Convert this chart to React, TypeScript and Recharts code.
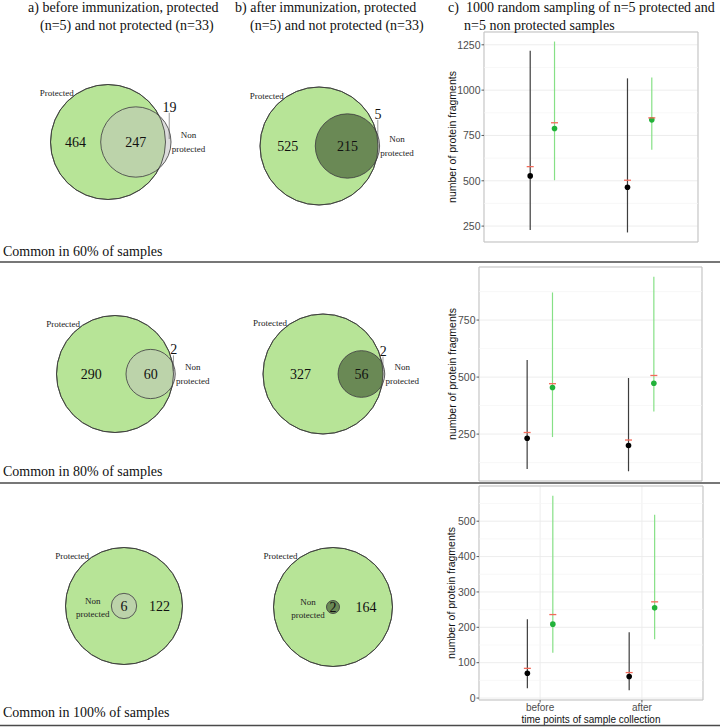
import React from 'react';
import {
  ScatterChart,
  Scatter,
  XAxis,
  YAxis,
  ZAxis,
  CartesianGrid,
  ErrorBar,
  ReferenceLine,
  ReferenceArea,
  Label,
} from 'recharts';

const SERIF = '"Liberation Serif", "Times New Roman", serif';
const SANS = '"Liberation Sans", Arial, sans-serif';

// ---------- text ----------
const headerA = ['a) before immunization, protected', '(n=5) and not protected (n=33)'];
const headerB = ['b) after immunization, protected', '(n=5) and not protected (n=33)'];
const headerC = ['c)  1000 random sampling of n=5 protected and', 'n=5 non protected samples'];
const rowLabels = ['Common in 60% of samples', 'Common in 80% of samples', 'Common in 100% of samples'];

// ---------- Venn data (a60, b60, a80, b80, a100, b100) ----------
const vennProtectedOnly = [464, 525, 290, 327, 122, 164];
const vennShared = [247, 215, 60, 56, 6, 2];
const vennNonProtectedOnly = [19, 5, 2, 2, 0, 0];

// ---------- random sampling data ----------
const timePoints = ['before', 'after'];

const non60Median = [527, 464];
const non60Mean = [578, 503];
const non60Min = [228, 215];
const non60Max = [1217, 1065];
const pro60Median = [788, 836];
const pro60Mean = [820, 847];
const pro60Min = [503, 671];
const pro60Max = [1268, 1070];
const ticks60 = [250, 500, 750, 1000, 1250];

const non80Median = [232, 200];
const non80Mean = [257, 224];
const non80Min = [97, 87];
const non80Max = [575, 496];
const pro80Median = [454, 473];
const pro80Mean = [471, 507];
const pro80Min = [237, 349];
const pro80Max = [871, 940];
const ticks80 = [250, 500, 750];

const non100Median = [70, 61];
const non100Mean = [84, 72];
const non100Min = [28, 22];
const non100Max = [223, 186];
const pro100Median = [209, 255];
const pro100Mean = [236, 272];
const pro100Min = [128, 166];
const pro100Max = [572, 518];
const ticks100 = [0, 100, 200, 300, 400, 500];

// ---------- layout ----------
const vennLayout = [
  { cx: 108, cy: 142, R: 57.5, col: 'a' },
  { cx: 318.5, cy: 146, R: 59, col: 'b' },
  { cx: 114.5, cy: 373.5, R: 58.5, col: 'a' },
  { cx: 323, cy: 374, R: 60, col: 'b' },
  { cx: 123.5, cy: 606, R: 58.5, col: 'a' },
  { cx: 333, cy: 607, R: 59.5, col: 'b' },
];
const PRO_FILL = '#b7e497';
const COLS: any = {
  a: { sliver: '#dcdcdc', inter: '#bcd3aa' },
  b: { sliver: '#cdcdcd', inter: '#6a8955' },
};
const STROKE = '#3a3a3a';

const ProShape = (p: any) => {
  const r = Math.sqrt(Math.max(p.size || 0, 0) / Math.PI) || p.width / 2;
  const { cx, cy } = p;
  const d = p.payload;
  const k = 0.7071;
  const labelX = d.nonDx > 0 ? (cx - r + cx + d.nonDx - d.nonR) / 2 : (cx + d.nonR + cx + r) / 2;
  return (
    <g>
      <circle cx={cx} cy={cy} r={r} fill={PRO_FILL} stroke={STROKE} strokeWidth={0.8} />
      <text x={cx - k * r + 6.5} y={cy - k * r - 5.5} textAnchor="end" fontSize={9} fontFamily={SERIF} fill="#222">
        Protected
      </text>
      <text x={labelX} y={cy + 5} textAnchor="middle" fontSize={14} fontFamily={SERIF} fill="#111">
        {d.count}
      </text>
    </g>
  );
};

const NonShape = (p: any) => {
  const r = Math.sqrt(Math.max(p.size || 0, 0) / Math.PI) || p.width / 2;
  const { cx, cy } = p;
  const d = p.payload;
  const pcx = cx - d.dx;
  const clipId = `vclip${d.idx}`;
  const right = d.dx > 0;
  return (
    <g>
      <defs>
        <clipPath id={clipId}>
          <circle cx={pcx} cy={cy} r={d.R} />
        </clipPath>
      </defs>
      <circle cx={cx} cy={cy} r={r} fill={d.sliver} />
      <circle cx={cx} cy={cy} r={r} fill={d.inter} clipPath={`url(#${clipId})`} />
      <circle cx={pcx} cy={cy} r={d.R} fill="none" stroke={STROKE} strokeWidth={0.8} />
      <circle cx={cx} cy={cy} r={r} fill="none" stroke={STROKE} strokeWidth={0.8} />
      <text x={cx} y={cy + 5} textAnchor="middle" fontSize={14} fontFamily={SERIF} fill="#111">
        {d.shared}
      </text>
      {d.nonOnly > 0 && (
        <g>
          <text x={cx + r - 1.5} y={cy - r + 5} textAnchor="middle" fontSize={14} fontFamily={SERIF} fill="#111">
            {d.nonOnly}
          </text>
          <line x1={cx + r - 1.8} x2={cx + r - 1.8} y1={cy - r + 6} y2={cy - 3} stroke="#555" strokeWidth={0.6} />
        </g>
      )}
      {right ? (
        <g fontSize={9} fontFamily={SERIF} fill="#222" textAnchor="middle">
          <text x={cx + r + 17.5} y={cy - 4}>Non</text>
          <text x={cx + r + 17.5} y={cy + 9.5}>protected</text>
        </g>
      ) : (
        <g fontSize={9} fontFamily={SERIF} fill="#222" textAnchor="middle">
          <text x={cx - r - 18.5} y={cy - 2}>Non</text>
          <text x={cx - r - 18.5} y={cy + 10.5}>protected</text>
        </g>
      )}
    </g>
  );
};

function Venn({ idx }: { idx: number }) {
  const L = vennLayout[idx];
  const W = 240;
  const H = 150;
  const proOnly = vennProtectedOnly[idx];
  const shared = vennShared[idx];
  const nonOnly = vennNonProtectedOnly[idx];
  const proTotal = proOnly + shared;
  const nonTotal = shared + nonOnly;
  const nonR = L.R * Math.sqrt(nonTotal / proTotal);
  const dx = nonOnly > 0 ? L.R - nonR + (2.2 * nonR * nonOnly) / nonTotal : 0;
  const colors = COLS[L.col];
  const proData = [{ x: 0, y: 0, z: proTotal, count: proOnly, nonR, nonDx: dx }];
  const nonData = [
    { x: dx, y: 0, z: nonTotal, shared, nonOnly, dx, R: L.R, idx, sliver: colors.sliver, inter: colors.inter },
  ];
  return (
    <div style={{ position: 'absolute', left: L.cx - W / 2, top: L.cy - H / 2 }}>
      <ScatterChart width={W} height={H} margin={{ top: 0, right: 0, bottom: 0, left: 0 }}>
        <XAxis type="number" dataKey="x" domain={[-W / 2, W / 2]} allowDataOverflow hide />
        <YAxis type="number" dataKey="y" domain={[-H / 2, H / 2]} allowDataOverflow hide />
        <ZAxis type="number" dataKey="z" domain={[0, proTotal]} range={[0, Math.PI * L.R * L.R]} />
        <Scatter data={proData} shape={ProShape} isAnimationActive={false} />
        <Scatter data={nonData} shape={NonShape} isAnimationActive={false} />
      </ScatterChart>
    </div>
  );
}

const BlackDot = (p: any) => <circle cx={p.cx} cy={p.cy} r={2.8} fill="#000" />;
const GreenDot = (p: any) => <circle cx={p.cx} cy={p.cy} r={2.8} fill="#22b23a" />;
const MeanTick = (p: any) => (
  <line x1={p.cx - 3.5} x2={p.cx + 3.5} y1={p.cy} y2={p.cy} stroke="#f26a5a" strokeWidth={1.3} />
);

function Panel(props: any) {
  const {
    top, height, plotTop, plotBottom, plotLeft, plotRight, ticks, showX, titleX,
    nonMedian, nonMean, nonMin, nonMax, proMedian, proMean, proMin, proMax,
  } = props;
  const LEFT = 440;
  const W = 280;
  const all = [...nonMin, ...nonMax, ...proMin, ...proMax];
  const lo = Math.min(...all);
  const hi = Math.max(...all);
  const pad = (hi - lo) * 0.05;
  const domain = [lo - pad, hi + pad];
  const step = ticks[1] - ticks[0];
  const minor: number[] = [];
  for (let v = ticks[0] - step / 2; v < domain[1]; v += step) if (v > domain[0]) minor.push(v);
  const nonRows = timePoints.map((t, i) => ({
    x: i + 1 - 0.125,
    y: nonMedian[i],
    err: [nonMedian[i] - nonMin[i], nonMax[i] - nonMedian[i]],
  }));
  const proRows = timePoints.map((t, i) => ({
    x: i + 1 + 0.125,
    y: proMedian[i],
    err: [proMedian[i] - proMin[i], proMax[i] - proMedian[i]],
  }));
  const meanRows = [
    ...timePoints.map((t, i) => ({ x: i + 1 - 0.125, y: nonMean[i] })),
    ...timePoints.map((t, i) => ({ x: i + 1 + 0.125, y: proMean[i] })),
  ];
  const xAxisH = height - (plotBottom - top);
  const midY = (plotTop + plotBottom) / 2 - top;
  return (
    <div style={{ position: 'absolute', left: LEFT, top }}>
      <ScatterChart
        width={W}
        height={height}
        margin={{ top: plotTop - top, right: LEFT + W - plotRight, bottom: 0, left: 0 }}
      >
        <CartesianGrid stroke="#ebebeb" strokeWidth={0.9} />
        {minor.map((v) => (
          <ReferenceLine key={v} y={v} stroke="#f5f5f5" strokeWidth={0.7} />
        ))}
        <ReferenceArea
          x1={0.4}
          x2={2.6}
          y1={domain[0]}
          y2={domain[1]}
          fill="none"
          stroke="#c3c3c3"
          strokeWidth={1}
          ifOverflow="visible"
        />
        <XAxis
          type="number"
          dataKey="x"
          domain={[0.4, 2.6]}
          ticks={[1, 2]}
          interval={0}
          allowDataOverflow
          height={xAxisH}
          axisLine={false}
          tickSize={2.5}
          tickMargin={1.2}
          tickLine={{ stroke: '#333', strokeWidth: 0.8 }}
          tick={showX ? { fontSize: 10, fill: '#4d4d4d', fontFamily: SANS } : false}
          tickFormatter={(v: number) => timePoints[v - 1]}
        >
          {showX && (
            <Label
              content={() => (
                <text
                  x={(plotLeft + plotRight) / 2 - LEFT}
                  y={240}
                  textAnchor="middle"
                  fontSize={10}
                  fontFamily={SANS}
                  fill="#111"
                >
                  time points of sample collection
                </text>
              )}
            />
          )}
        </XAxis>
        <YAxis
          type="number"
          dataKey="y"
          domain={domain}
          ticks={ticks}
          interval={0}
          allowDataOverflow
          width={plotLeft - LEFT}
          axisLine={false}
          tickSize={2.5}
          tickMargin={1}
          tickLine={{ stroke: '#333', strokeWidth: 0.8 }}
          tick={{ fontSize: 10.5, fill: '#4d4d4d', fontFamily: SANS }}
        >
          <Label
            content={() => (
              <text
                x={titleX - LEFT}
                y={midY}
                transform={`rotate(-90 ${titleX - LEFT} ${midY})`}
                textAnchor="middle"
                fontSize={10.5}
                fontFamily={SANS}
                fill="#111"
              >
                number of protein fragments
              </text>
            )}
          />
        </YAxis>
        <Scatter data={nonRows} shape={BlackDot} isAnimationActive={false}>
          <ErrorBar dataKey="err" direction="y" width={0} stroke="#3d3d3d" strokeWidth={1.2} isAnimationActive={false} />
        </Scatter>
        <Scatter data={proRows} shape={GreenDot} isAnimationActive={false}>
          <ErrorBar dataKey="err" direction="y" width={0} stroke="#86e086" strokeWidth={1.2} isAnimationActive={false} />
        </Scatter>
        <Scatter data={meanRows} shape={MeanTick} isAnimationActive={false} />
      </ScatterChart>
    </div>
  );
}

export default function App() {
  const serifText = { fontFamily: SERIF, fontSize: 14, fill: '#111' } as any;
  return (
    <div style={{ position: 'absolute', left: 0, top: 0, width: 720, height: 728, background: '#fff', overflow: 'hidden' }}>
      {vennLayout.map((_, i) => (
        <Venn key={i} idx={i} />
      ))}
      <Panel
        top={0} height={262} plotTop={32} plotBottom={242} plotLeft={484} plotRight={698} titleX={456}
        ticks={ticks60} showX={false}
        nonMedian={non60Median} nonMean={non60Mean} nonMin={non60Min} nonMax={non60Max}
        proMedian={pro60Median} proMean={pro60Mean} proMin={pro60Min} proMax={pro60Max}
      />
      <Panel
        top={262} height={221} plotTop={267} plotBottom={481} plotLeft={479} plotRight={702} titleX={455.5}
        ticks={ticks80} showX={false}
        nonMedian={non80Median} nonMean={non80Mean} nonMin={non80Min} nonMax={non80Max}
        proMedian={pro80Median} proMean={pro80Mean} proMin={pro80Min} proMax={pro80Max}
      />
      <Panel
        top={483} height={245} plotTop={486} plotBottom={700} plotLeft={479} plotRight={703} titleX={454.5}
        ticks={ticks100} showX={true}
        nonMedian={non100Median} nonMean={non100Mean} nonMin={non100Min} nonMax={non100Max}
        proMedian={pro100Median} proMean={pro100Mean} proMin={pro100Min} proMax={pro100Max}
      />
      <svg width={720} height={728} style={{ position: 'absolute', left: 0, top: 0, pointerEvents: 'none' }}>
        <text x={28} y={12} {...serifText}>{headerA[0]}</text>
        <text x={40} y={29.5} {...serifText}>{headerA[1]}</text>
        <text x={235} y={12} {...serifText}>{headerB[0]}</text>
        <text x={250} y={29.5} {...serifText}>{headerB[1]}</text>
        <text x={448} y={12} {...serifText} style={{ whiteSpace: 'pre' }}>{headerC[0]}</text>
        <text x={464} y={29.5} {...serifText}>{headerC[1]}</text>
        <text x={3} y={256} {...serifText}>{rowLabels[0]}</text>
        <text x={3} y={476} {...serifText}>{rowLabels[1]}</text>
        <text x={3} y={717} {...serifText}>{rowLabels[2]}</text>
        <line x1={0} x2={720} y1={262} y2={262} stroke="#4a4a4a" strokeWidth={1.4} />
        <line x1={0} x2={720} y1={483} y2={483} stroke="#4a4a4a" strokeWidth={1.4} />
        <line x1={0} x2={720} y1={725.5} y2={725.5} stroke="#4a4a4a" strokeWidth={1.4} />
      </svg>
    </div>
  );
}
